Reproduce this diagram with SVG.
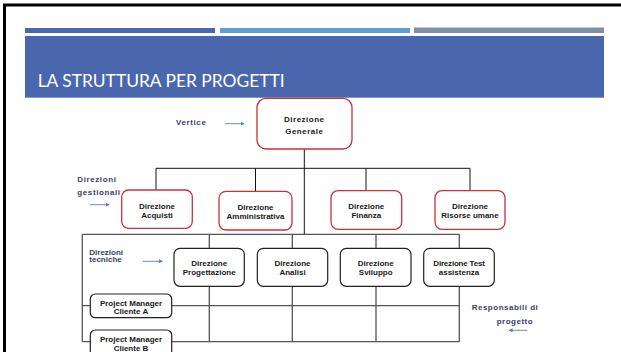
<svg xmlns="http://www.w3.org/2000/svg" width="621" height="352" viewBox="0 0 621 352">
<style>
.n text{font-family:"Liberation Sans",Arial,sans-serif;font-weight:bold;font-size:8px;fill:#1a1a1a;text-anchor:middle}
.red{fill:#fff;stroke:#c8323a;stroke-width:1.3}
.blk{fill:#fff;stroke:#222;stroke-width:1.2}
.lbl{font-family:"Liberation Sans",Arial,sans-serif;font-weight:bold;font-size:8px;fill:#3a3d6b}
.c1{stroke:#111;stroke-width:1;fill:none}
.c2{stroke:#555;stroke-width:1.3;fill:none}
.ar{stroke:#4f81bd;stroke-width:0.9;fill:none;marker-end:url(#ah)}
</style>
<defs>
<marker id="ah" viewBox="0 0 6 6" refX="5" refY="3" markerWidth="4" markerHeight="4" orient="auto" markerUnits="userSpaceOnUse">
<path d="M0,0 L6,3 L0,6 z" fill="#4f81bd"/>
</marker>
</defs>
<rect x="0" y="0" width="621" height="352" fill="#fff"/>
<rect x="4.5" y="5" width="700" height="400" fill="none" stroke="#000" stroke-width="3"/>
<rect x="25" y="28" width="190" height="5" fill="#4a67ae"/>
<rect x="220" y="28" width="190" height="5" fill="#5f9fd4"/>
<rect x="414" y="27.5" width="190" height="5.5" fill="#7f8fa9"/>
<rect x="25" y="36" width="579" height="61.7" fill="#4a67ae"/>
<text x="37.7" y="87.3" font-family="Lato,'Liberation Sans',sans-serif" font-size="18" fill="#fff" textLength="247" lengthAdjust="spacingAndGlyphs">LA STRUTTURA PER PROGETTI</text>

<g id="connectors">
<path class="c1" d="M304.3,149 V234.3 M156,168.3 H470 M156,168.3 V190 M255.5,168.3 V191.3 M366,168.3 V190.7 M470,168.3 V190.7"/>
<path class="c2" d="M82.3,234.3 H459.3 M82.3,305.7 H459.3 M82.3,341.7 H459.3 M82.3,234.3 V341.7 M209.3,234.3 V341.7 M292.3,234.3 V341.7 M376,234.3 V341.7 M459.3,234.3 V341.7"/>
<line class="ar" x1="225" y1="123.7" x2="244" y2="123.7"/>
<line class="ar" x1="90" y1="204.7" x2="109" y2="204.7"/>
<line class="ar" x1="142.7" y1="261.3" x2="162.3" y2="261.3"/>
<line class="ar" x1="527.3" y1="330.3" x2="509.3" y2="330.3"/>
</g>

<g id="dg" class="n"><rect class="red" x="257" y="98.3" width="95" height="50.7" rx="9"/><text x="304.3" y="122" font-size="8.5" letter-spacing="0.5">Direzione</text><text x="304.3" y="133.8" font-size="8.5" letter-spacing="0.5">Generale</text></g>
<g id="acquisti" class="n"><rect class="red" x="121.7" y="190" width="70.6" height="38.3" rx="7"/><text x="157" y="209">Direzione</text><text x="157" y="217.5">Acquisti</text></g>
<g id="amministrativa" class="n"><rect class="red" x="219" y="191.3" width="73" height="38.7" rx="7"/><text x="255.5" y="210">Direzione</text><text x="255.5" y="218.5">Amministrativa</text></g>
<g id="finanza" class="n"><rect class="red" x="331" y="190.7" width="70.7" height="38.6" rx="7"/><text x="366.3" y="209">Direzione</text><text x="366.3" y="217.5">Finanza</text></g>
<g id="risorse" class="n"><rect class="red" x="435" y="190.7" width="70" height="38.6" rx="7"/><text x="470" y="209">Direzione</text><text x="470" y="217.5">Risorse umane</text></g>

<g id="progettazione" class="n"><rect class="blk" x="174" y="248.3" width="70.3" height="38" rx="6"/><text x="209.2" y="266.3">Direzione</text><text x="209.2" y="275">Progettazione</text></g>
<g id="analisi" class="n"><rect class="blk" x="257.3" y="248.3" width="70.4" height="38" rx="6"/><text x="292.5" y="266.3">Direzione</text><text x="292.5" y="275">Analisi</text></g>
<g id="sviluppo" class="n"><rect class="blk" x="340.3" y="248.3" width="70.7" height="38" rx="6"/><text x="375.7" y="266.3">Direzione</text><text x="375.7" y="275">Sviluppo</text></g>
<g id="test" class="n"><rect class="blk" x="423.7" y="248.3" width="70.6" height="38" rx="6"/><text x="459" y="266.3" letter-spacing="-0.2">Direzione Test</text><text x="459" y="275">assistenza</text></g>

<g id="pmA" class="n"><rect class="blk" x="90.3" y="294" width="81.4" height="23.7" rx="5"/><text x="131" y="305.6" font-size="7.8">Project Manager</text><text x="131" y="314.4" font-size="7.8">Cliente A</text></g>
<g id="pmB" class="n"><rect class="blk" x="90.3" y="330" width="81.4" height="26" rx="5"/><text x="131" y="342.2" font-size="7.8">Project Manager</text><text x="131" y="350.6" font-size="7.8">Cliente B</text></g>

<g id="labels">
<text class="lbl" x="176" y="124.5" letter-spacing="0.6">Vertice</text>
<text class="lbl" x="77.3" y="182" letter-spacing="0.6">Direzioni</text>
<text class="lbl" x="77.3" y="194.5" letter-spacing="0.6">gestionali</text>
<text class="lbl" x="89.3" y="254.6" font-size="7" fill="#3a3f8c">Direzioni</text>
<text class="lbl" x="89.3" y="262.4" font-size="7" fill="#3a3f8c">tecniche</text>
<text class="lbl" x="471.7" y="310" font-size="7.5" letter-spacing="0.5">Responsabili di</text>
<text class="lbl" x="496.7" y="323.5" font-size="7.5" letter-spacing="0.5">progetto</text>
</g>
</svg>
